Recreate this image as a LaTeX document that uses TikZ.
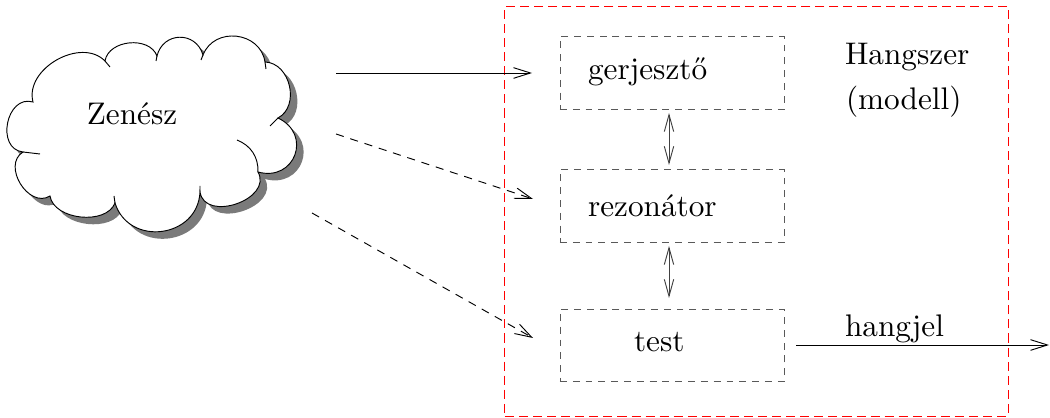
\documentclass[tikz,border=0pt]{standalone}
\usetikzlibrary{arrows.meta,calc}

% outline of the musician's cloud, traced clockwise
\newcommand{\cloudpath}{%
  (33,102) to[bend left=75,looseness=1.06] (105,61)
  to[bend left=75,looseness=1.06] (157,56)
  to[bend left=75,looseness=1.40] (203,55)
  to[bend left=75,looseness=1.27] (265,62)
  to[bend left=75,looseness=1.13] (278,118)
  to[bend left=85,looseness=1.70] (258,172)
  to[bend left=100,looseness=1.30] (200,192)
  to[bend left=80,looseness=1.38] (115,203)
  to[bend left=75,looseness=0.95] (50,196)
  to[bend left=90,looseness=1.25] (23,152)
  to[bend left=95,looseness=1.40] (33,102) -- cycle}

\tikzset{
  thin line/.style={line width=0.3pt},
  frame/.style={draw=red, line width=0.3pt, dash pattern=on 2.9pt off 1.6pt,
                inner sep=0pt, outer sep=0pt},
  partbox/.style={draw=black!65, line width=0.3pt, dash pattern=on 2.2pt off 1.9pt,
                  minimum width=71.7pt, minimum height=23.2pt,
                  inner sep=0pt, outer sep=0pt},
  label/.style={inner sep=0pt, outer sep=0pt},
  barb/.style={line width=0.3pt, -{Straight Barb[length=5.4pt,width=3.4pt]}},
  dbarb/.style={line width=0.3pt, draw=black!75,
                {Straight Barb[length=5.4pt,width=3.0pt]}-{Straight Barb[length=5.4pt,width=3.0pt]}},
  dashedlink/.style={barb, dash pattern=on 2.6pt off 2.2pt},
}

\begin{document}
\begin{tikzpicture}[x=0.32pt,y=-0.32pt]
  \useasboundingbox (0,0) rectangle (1050,418);

  % the musician
  \fill[black!52, shift={(7,7)}] \cloudpath;
  \draw[thin line, fill=white] \cloudpath;
  % overshooting ends of the puffs
  \draw[thin line] (105,61) -- (110,67)  (157,56) -- (156,61)
                   (203,55) -- (201,60)  (265,62) -- (266,69)
                   (278,118) -- (270,126) (200,192) -- (200,186)
                   (115,203) -- (114,196) (23,152) -- (40,154);
  \draw[thin line] (237,140) to[bend left=35] (258,172);
  \node[label, anchor=base] (zenesz) at (132,125) {Zenész};

  % the instrument model
  \node[frame, minimum width=161pt, minimum height=131.2pt] (hangszer) at (756.5,211) {};
  \node[label, anchor=base west] (hangszertxt) at (845,65) {Hangszer};
  \node[label, anchor=base west] (modelltxt) at (846,110) {(modell)};

  \node[partbox] (gerbox) at (672,73) {};
  \node[partbox] (rezbox) at (672,206) {};
  \node[partbox] (testbox) at (672,345.5) {};
  \node[label, anchor=base west] (gertxt) at (588,80) {gerjesztő};
  \node[label, anchor=base west] (reztxt) at (588,217) {rezonátor};
  \node[label, anchor=base west] (testtxt) at (634,352) {test};

  % couplings between the parts
  \coordinate (c1a) at (669,113);
  \coordinate (c1b) at (669,165);
  \coordinate (c2a) at (669,246);
  \coordinate (c2b) at (669,298);
  \draw[dbarb] (c1a) -- (c1b);
  \draw[dbarb] (c2a) -- (c2b);

  % control from the musician
  \coordinate (m1) at (336,73);
  \coordinate (g1) at (532,73);
  \coordinate (m2) at (336,134);
  \coordinate (r1) at (533,199);
  \coordinate (m3) at (312,213);
  \coordinate (t1) at (533,338);
  \draw[barb] (m1) -- (g1);
  \draw[dashedlink] (m2) -- (r1);
  \draw[dashedlink] (m3) -- (t1);

  % sound output
  \coordinate (out0) at (796,345);
  \coordinate (out1) at (1049,345);
  \draw[barb] (out0) -- (out1);
  \node[label, anchor=base west] (hangjel) at (845,337) {hangjel};
\end{tikzpicture}
\end{document}
